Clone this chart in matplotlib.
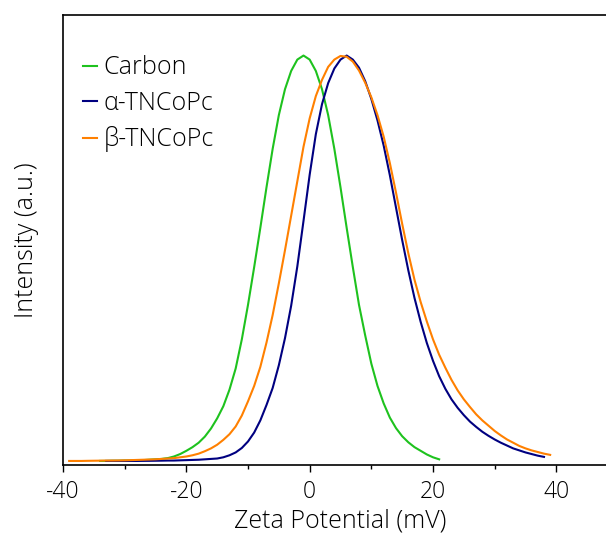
import matplotlib
matplotlib.use("Agg")
import matplotlib.pyplot as plt
from matplotlib.ticker import MultipleLocator

plt.rcParams["font.family"] = ["Open Sans", "DejaVu Sans"]
plt.rcParams["font.weight"] = "light"
plt.rcParams["axes.unicode_minus"] = False

# zeta potential distributions, 1 mV steps
# (normalised intensity, peak = 1)
carbon_x = list(range(-34, 22))
carbon_y = [0.0, 0.0, 0.0005, 0.0005, 0.001, 0.001, 0.0015, 0.002, 0.003, 0.004,
            0.005, 0.007, 0.011, 0.017, 0.025, 0.034, 0.045, 0.060, 0.080, 0.105,
            0.135, 0.176, 0.228, 0.300, 0.385, 0.478, 0.575, 0.675, 0.770, 0.853,
            0.917, 0.962, 0.990, 1.0, 0.990, 0.962, 0.917, 0.853, 0.770, 0.675,
            0.575, 0.478, 0.385, 0.310, 0.240, 0.185, 0.142, 0.107, 0.081, 0.061,
            0.046, 0.034, 0.025, 0.016, 0.009, 0.004]

alpha_x = list(range(-33, 39))
alpha_y = [0.0, 0.0, 0.0, 0.0, 0.0, 0.0, 0.0002, 0.0003, 0.0005, 0.0007,
           0.001, 0.001, 0.0015, 0.002, 0.0025, 0.003, 0.004, 0.005, 0.006, 0.009,
           0.014, 0.021, 0.032, 0.048, 0.070, 0.100, 0.138, 0.180, 0.236, 0.303,
           0.383, 0.480, 0.592, 0.706, 0.806, 0.880, 0.932, 0.968, 0.990, 1.0,
           0.990, 0.970, 0.937, 0.893, 0.840, 0.778, 0.705, 0.625, 0.545, 0.470,
           0.402, 0.343, 0.291, 0.247, 0.209, 0.178, 0.152, 0.131, 0.113, 0.097,
           0.084, 0.072, 0.062, 0.053, 0.045, 0.038, 0.031, 0.026, 0.021, 0.017,
           0.013, 0.010]

beta_x = list(range(-39, 40))
beta_y = [0.0, 0.0, 0.0, 0.0003, 0.0005, 0.0007, 0.001, 0.001, 0.0012, 0.0015,
          0.002, 0.0025, 0.003, 0.0035, 0.004, 0.005, 0.006, 0.007, 0.009, 0.011,
          0.014, 0.018, 0.024, 0.031, 0.040, 0.052, 0.066, 0.085, 0.112, 0.147,
          0.185, 0.232, 0.292, 0.360, 0.438, 0.520, 0.605, 0.690, 0.775, 0.845,
          0.900, 0.940, 0.972, 0.990, 0.999, 0.997, 0.985, 0.963, 0.933, 0.897,
          0.853, 0.800, 0.735, 0.662, 0.585, 0.512, 0.447, 0.392, 0.344, 0.300,
          0.262, 0.230, 0.200, 0.174, 0.152, 0.133, 0.115, 0.100, 0.087, 0.074,
          0.063, 0.053, 0.045, 0.037, 0.031, 0.026, 0.022, 0.018, 0.015]

series = [
    ("Carbon", carbon_x, carbon_y, "#1ec21e"),
    ("\u03b1-TNCoPc", alpha_x, alpha_y, "#000080"),
    ("\u03b2-TNCoPc", beta_x, beta_y, "#ff8000"),
]

fig = plt.figure(figsize=(6.06, 5.34), dpi=100)
# axes run past the right edge of the figure like the cropped original
ax = fig.add_axes([63 / 606, 69 / 534, 555 / 606, 450 / 534])

for label, xs, ys, color in series:
    ax.plot(xs, ys, color=color, lw=1.5, label=label)

ax.set_xlim(-40, 50)
ax.set_ylim(-0.01, 1.10)
ax.xaxis.set_major_locator(MultipleLocator(20))
ax.xaxis.set_minor_locator(MultipleLocator(10))
ax.tick_params(axis="x", which="major", direction="out", length=5, width=1,
               labelsize=16.5, pad=6)
ax.tick_params(axis="x", which="minor", direction="out", length=3, width=1)
ax.set_yticks([])
for side in ["left", "bottom", "top", "right"]:
    ax.spines[side].set_linewidth(1.2)

ax.set_xlabel("Zeta Potential (mV)", fontsize=18, fontweight="light", labelpad=3)
ax.set_ylabel("Intensity (a.u.)", fontsize=18, fontweight="light", labelpad=17)

ax.legend(loc="upper left", bbox_to_anchor=(0.0, 0.955), frameon=False,
          fontsize=18, handlelength=0.55, handletextpad=0.28,
          labelspacing=0.42, borderaxespad=0.4)

fig.savefig("out.png", dpi=100)
